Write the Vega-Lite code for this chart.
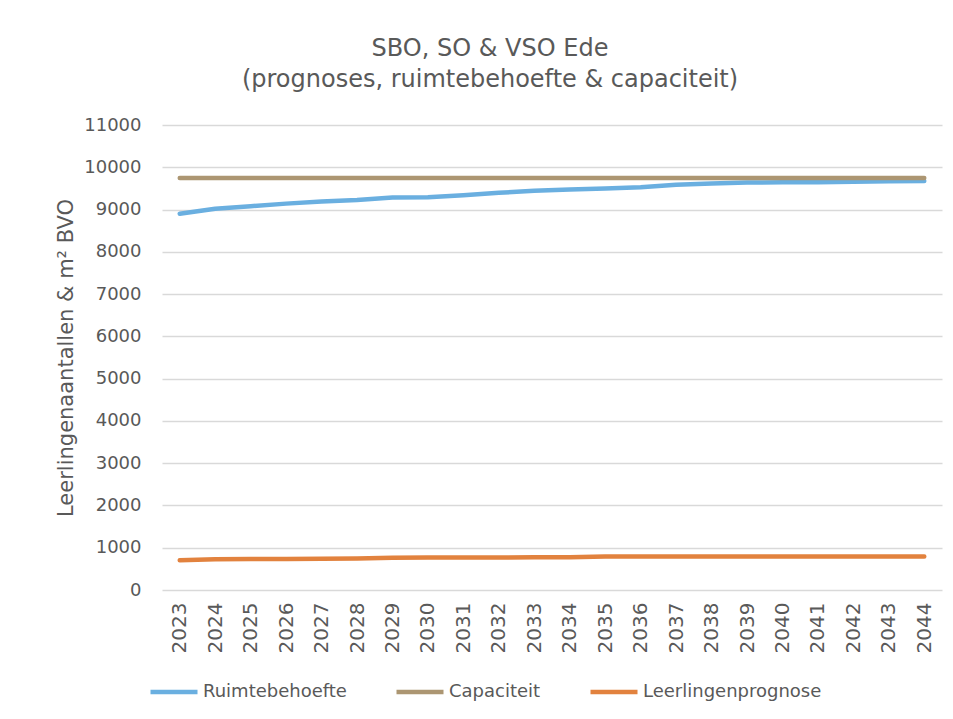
{
  "$schema": "https://vega.github.io/schema/vega-lite/v6.json",
  "autosize": {"type": "none"},
  "width": 780,
  "height": 465,
  "padding": {"left": 162, "top": 125, "right": 11, "bottom": 129},
  "background": "white",
  "title": {
    "text": ["SBO, SO & VSO Ede", "(prognoses, ruimtebehoefte & capaciteit)"],
    "font": "DejaVu Sans",
    "fontSize": 24,
    "fontWeight": "normal",
    "color": "#595959",
    "lineHeight": 31,
    "anchor": "middle",
    "dx": -62,
    "offset": 24
  },
  "data": {
    "values": [
      {"jaar": "2023", "reeks": "Ruimtebehoefte", "waarde": 8900},
      {"jaar": "2024", "reeks": "Ruimtebehoefte", "waarde": 9020},
      {"jaar": "2025", "reeks": "Ruimtebehoefte", "waarde": 9080},
      {"jaar": "2026", "reeks": "Ruimtebehoefte", "waarde": 9140},
      {"jaar": "2027", "reeks": "Ruimtebehoefte", "waarde": 9190},
      {"jaar": "2028", "reeks": "Ruimtebehoefte", "waarde": 9225},
      {"jaar": "2029", "reeks": "Ruimtebehoefte", "waarde": 9285},
      {"jaar": "2030", "reeks": "Ruimtebehoefte", "waarde": 9290},
      {"jaar": "2031", "reeks": "Ruimtebehoefte", "waarde": 9340},
      {"jaar": "2032", "reeks": "Ruimtebehoefte", "waarde": 9395},
      {"jaar": "2033", "reeks": "Ruimtebehoefte", "waarde": 9445},
      {"jaar": "2034", "reeks": "Ruimtebehoefte", "waarde": 9475},
      {"jaar": "2035", "reeks": "Ruimtebehoefte", "waarde": 9500},
      {"jaar": "2036", "reeks": "Ruimtebehoefte", "waarde": 9525},
      {"jaar": "2037", "reeks": "Ruimtebehoefte", "waarde": 9585},
      {"jaar": "2038", "reeks": "Ruimtebehoefte", "waarde": 9615},
      {"jaar": "2039", "reeks": "Ruimtebehoefte", "waarde": 9640},
      {"jaar": "2040", "reeks": "Ruimtebehoefte", "waarde": 9645},
      {"jaar": "2041", "reeks": "Ruimtebehoefte", "waarde": 9645},
      {"jaar": "2042", "reeks": "Ruimtebehoefte", "waarde": 9660},
      {"jaar": "2043", "reeks": "Ruimtebehoefte", "waarde": 9670},
      {"jaar": "2044", "reeks": "Ruimtebehoefte", "waarde": 9675},
      {"jaar": "2023", "reeks": "Capaciteit", "waarde": 9745},
      {"jaar": "2024", "reeks": "Capaciteit", "waarde": 9745},
      {"jaar": "2025", "reeks": "Capaciteit", "waarde": 9745},
      {"jaar": "2026", "reeks": "Capaciteit", "waarde": 9745},
      {"jaar": "2027", "reeks": "Capaciteit", "waarde": 9745},
      {"jaar": "2028", "reeks": "Capaciteit", "waarde": 9745},
      {"jaar": "2029", "reeks": "Capaciteit", "waarde": 9745},
      {"jaar": "2030", "reeks": "Capaciteit", "waarde": 9745},
      {"jaar": "2031", "reeks": "Capaciteit", "waarde": 9745},
      {"jaar": "2032", "reeks": "Capaciteit", "waarde": 9745},
      {"jaar": "2033", "reeks": "Capaciteit", "waarde": 9745},
      {"jaar": "2034", "reeks": "Capaciteit", "waarde": 9745},
      {"jaar": "2035", "reeks": "Capaciteit", "waarde": 9745},
      {"jaar": "2036", "reeks": "Capaciteit", "waarde": 9745},
      {"jaar": "2037", "reeks": "Capaciteit", "waarde": 9745},
      {"jaar": "2038", "reeks": "Capaciteit", "waarde": 9745},
      {"jaar": "2039", "reeks": "Capaciteit", "waarde": 9745},
      {"jaar": "2040", "reeks": "Capaciteit", "waarde": 9745},
      {"jaar": "2041", "reeks": "Capaciteit", "waarde": 9745},
      {"jaar": "2042", "reeks": "Capaciteit", "waarde": 9745},
      {"jaar": "2043", "reeks": "Capaciteit", "waarde": 9745},
      {"jaar": "2044", "reeks": "Capaciteit", "waarde": 9745},
      {"jaar": "2023", "reeks": "Leerlingenprognose", "waarde": 705},
      {"jaar": "2024", "reeks": "Leerlingenprognose", "waarde": 725},
      {"jaar": "2025", "reeks": "Leerlingenprognose", "waarde": 732},
      {"jaar": "2026", "reeks": "Leerlingenprognose", "waarde": 736},
      {"jaar": "2027", "reeks": "Leerlingenprognose", "waarde": 740},
      {"jaar": "2028", "reeks": "Leerlingenprognose", "waarde": 744},
      {"jaar": "2029", "reeks": "Leerlingenprognose", "waarde": 765},
      {"jaar": "2030", "reeks": "Leerlingenprognose", "waarde": 768},
      {"jaar": "2031", "reeks": "Leerlingenprognose", "waarde": 770},
      {"jaar": "2032", "reeks": "Leerlingenprognose", "waarde": 771},
      {"jaar": "2033", "reeks": "Leerlingenprognose", "waarde": 772},
      {"jaar": "2034", "reeks": "Leerlingenprognose", "waarde": 773},
      {"jaar": "2035", "reeks": "Leerlingenprognose", "waarde": 792},
      {"jaar": "2036", "reeks": "Leerlingenprognose", "waarde": 793},
      {"jaar": "2037", "reeks": "Leerlingenprognose", "waarde": 793},
      {"jaar": "2038", "reeks": "Leerlingenprognose", "waarde": 794},
      {"jaar": "2039", "reeks": "Leerlingenprognose", "waarde": 794},
      {"jaar": "2040", "reeks": "Leerlingenprognose", "waarde": 794},
      {"jaar": "2041", "reeks": "Leerlingenprognose", "waarde": 794},
      {"jaar": "2042", "reeks": "Leerlingenprognose", "waarde": 794},
      {"jaar": "2043", "reeks": "Leerlingenprognose", "waarde": 794},
      {"jaar": "2044", "reeks": "Leerlingenprognose", "waarde": 794}
    ]
  },
  "mark": {"type": "line", "strokeWidth": 4.5, "strokeCap": "round", "strokeJoin": "round"},
  "encoding": {
    "x": {
      "field": "jaar",
      "type": "ordinal",
      "scale": {"type": "point", "padding": 0.5},
      "axis": {
        "title": null,
        "labelAngle": -90,
        "labelFont": "DejaVu Sans",
        "labelFontSize": 20,
        "labelColor": "#595959",
        "labelPadding": 12,
        "ticks": false,
        "domain": false,
        "grid": false
      }
    },
    "y": {
      "field": "waarde",
      "type": "quantitative",
      "scale": {"domain": [0, 11000], "nice": false},
      "axis": {
        "title": "Leerlingenaantallen & m² BVO",
        "titleFont": "DejaVu Sans",
        "titleFontSize": 21,
        "titleFontWeight": "normal",
        "titleColor": "#595959",
        "titlePadding": 7,
        "values": [0, 1000, 2000, 3000, 4000, 5000, 6000, 7000, 8000, 9000, 10000, 11000],
        "format": "d",
        "labelFont": "DejaVu Sans",
        "labelFontSize": 18,
        "labelColor": "#595959",
        "labelPadding": 21,
        "ticks": false,
        "domain": false,
        "grid": true,
        "gridColor": "#d9d9d9",
        "gridWidth": 1.3
      }
    },
    "color": {
      "field": "reeks",
      "type": "nominal",
      "scale": {
        "domain": ["Ruimtebehoefte", "Capaciteit", "Leerlingenprognose"],
        "range": ["#6aafe0", "#ac9672", "#e2823e"]
      },
      "legend": {
        "title": null,
        "orient": "none",
        "direction": "horizontal",
        "legendX": -14,
        "legendY": 541,
        "symbolType": "stroke",
        "symbolSize": 2209,
        "symbolStrokeWidth": 4.5,
        "labelFont": "DejaVu Sans",
        "labelFontSize": 18,
        "labelColor": "#595959",
        "labelOffset": 3,
        "labelLimit": 400,
        "columnPadding": 40
      }
    }
  },
  "config": {
    "view": {"stroke": null}
  }
}
